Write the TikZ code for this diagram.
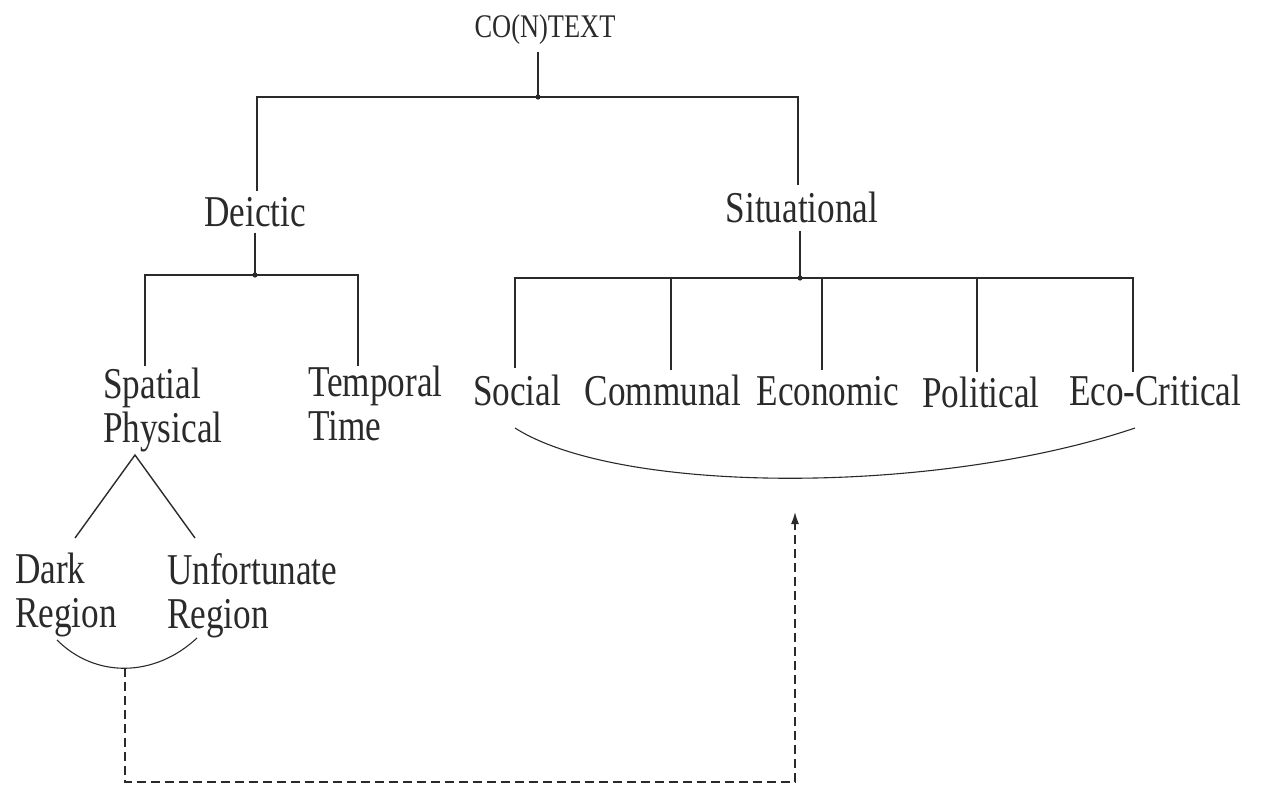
\documentclass[tikz,border=0pt]{standalone}
\usepackage{fontspec}
\setmainfont[FakeStretch=0.8]{Liberation Serif}
\usetikzlibrary{arrows.meta}
\definecolor{ink}{HTML}{2A2A2A}
\begin{document}
\begin{tikzpicture}[x=1pt,y=-1pt,
  lbl/.style={inner sep=0pt, text=ink, font=\fontsize{44}{44}\selectfont},
  toplbl/.style={inner sep=0pt, text=ink, font=\fontsize{33}{33}\selectfont},
  multi/.style={lbl, align=left, anchor=north west},
  branch/.style={draw=ink, line width=1.4pt},
  thin/.style={draw=ink, line width=1.1pt},
  link/.style={draw=ink, line width=1.5pt, dash pattern=on 9pt off 5pt},
  joint/.style={fill=ink, draw=none}
]
\useasboundingbox (0,0) rectangle (1265,787);

% labels
\node[toplbl, anchor=base] (ctx) at (545,37) {CO(N)TEXT};
\node[lbl, anchor=base] (dei) at (255,226) {Deictic};
\node[lbl, anchor=base] (sit) at (802,222) {Situational};
\node[multi] (spa) at (103,368) {Spatial\\Physical};
\node[multi] (tem) at (308,366) {Temporal\\Time};
\node[lbl, anchor=base] (soc) at (517,405) {Social};
\node[lbl, anchor=base] (com) at (663,405) {Communal};
\node[lbl, anchor=base] (eco) at (828,405) {Economic};
\node[lbl, anchor=base] (pol) at (981,407) {Political};
\node[lbl, anchor=base] (ecc) at (1155,405) {Eco-Critical};
\node[multi] (dark) at (15,553) {Dark\\Region};
\node[multi] (unf) at (167,553) {Unfortunate\\Region};

% junction points and branch ends
\coordinate (jc) at (538,97);
\coordinate (jd) at (255,275);
\coordinate (js) at (800,278);
\coordinate (dl) at (145,366);
\coordinate (dr) at (358,366);
\coordinate (d1) at (515,368);
\coordinate (d2) at (671,370);
\coordinate (d3) at (822,370);
\coordinate (d4) at (977,372);
\coordinate (d5) at (1133,372);
\coordinate (apex) at (135,455);
\coordinate (ta) at (75,538);
\coordinate (tb) at (195,538);

% top level
\draw[branch, shorten <=8pt] (ctx.south -| jc) -- (jc);
\draw[branch, shorten >=6pt] (jc) -| (dei.north -| 257,0);
\draw[branch, shorten >=6pt] (jc) -| (sit.north -| 798,0);
\fill[joint] (jc) circle (2.6);

% deictic branch
\draw[branch, shorten <=6pt] (dei.south) -- (jd);
\draw[branch] (dl) |- (jd) -| (dr);
\fill[joint] (jd) circle (2.6);

% situational branch
\draw[branch, shorten <=8pt] (sit.south -| js) -- (js);
\draw[branch] (d1) |- (js) -| (d5);
\draw[branch] (d2) -- (d2 |- js);
\draw[branch] (d3) -- (d3 |- js);
\draw[branch] (d4) -- (d4 |- js);
\fill[joint] (js) circle (2.6);

% spatial split
\draw[branch] (ta) -- (apex) -- (tb);

% grouping arcs
\coordinate (ga) at (515,428);
\coordinate (gb) at (1135,428);
\draw[thin] (ga) .. controls (620,495) and (937,495) .. (gb);
\coordinate (ra) at (57,640);
\coordinate (rb) at (197,638);
\coordinate (rm) at (125,668);
\draw[thin] (ra) .. controls (95,678) and (154,678) .. (rb);

% dashed link
\coordinate (tgt) at (795,512);
\draw[link, -{Latex[length=12pt,width=8pt]}] (rm) -- (125,782) -| (tgt);
\end{tikzpicture}
\end{document}
